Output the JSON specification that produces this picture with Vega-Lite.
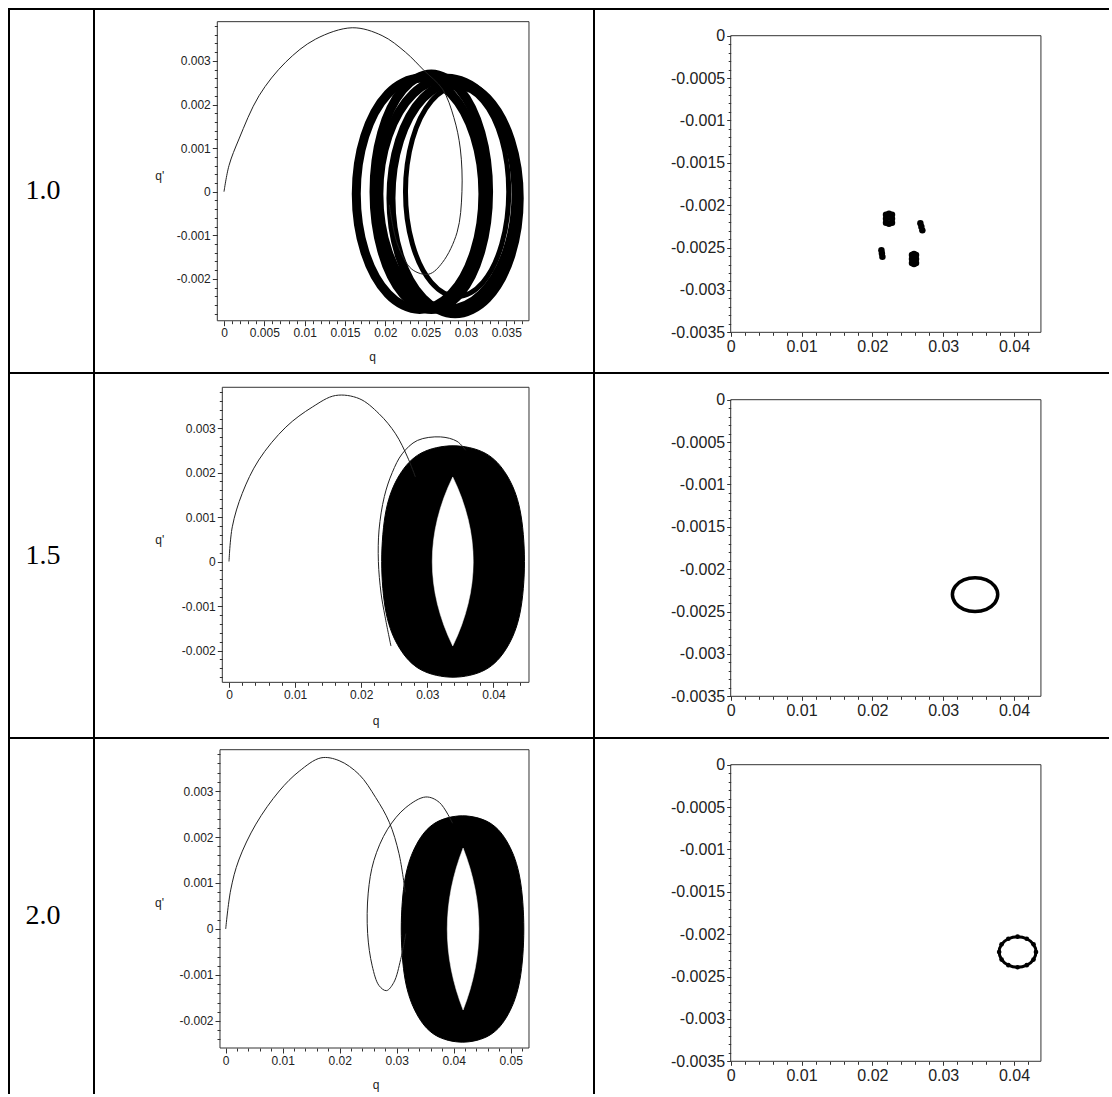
{
  "$schema": "https://vega.github.io/schema/vega-lite/v6.json",
  "padding": {"left": 8, "top": 8, "right": 0, "bottom": 0},
  "background": "white",
  "columns": 3,
  "spacing": 0,
  "bounds": "flush",
  "align": "each",
  "config": {
    "view": {"stroke": null},
    "axis": {"labelFont": "Liberation Sans", "titleFont": "Liberation Sans", "labelColor": "#222", "titleColor": "#222", "tickColor": "#333", "tickWidth": 1, "domain": false, "grid": false, "labelFlush": false, "labelOverlap": false, "titleFontWeight": "normal", "labelPadding": 2}
  },
  "concat": [
        {
          "width": 85, "height": 364,
          "view": {"stroke": "black", "strokeWidth": 2},
          "data": {"values": [{"label": "1.0", "pos": 1}]},
          "mark": {"type": "text", "font": "Liberation Serif", "fontSize": 28, "color": "black", "align": "center", "baseline": "middle"},
          "encoding": {
            "text": {"field": "label"},
            "x": {"field": "pos", "type": "quantitative", "scale": {"domain": [0, 2.5], "nice": false, "zero": false}, "axis": null},
            "y": {"field": "pos", "type": "quantitative", "scale": {"domain": [0, 2], "nice": false, "zero": false}, "axis": null}
          }
        },
        {
          "width": 500, "height": 364,
          "view": {"stroke": "black", "strokeWidth": 2},
          "layer": [
            {
              "data": {"values": [{"x0": -0.00083, "x1": 0.03781, "y0": -0.00296, "y1": 0.0039}]},
              "mark": {"type": "rect", "filled": false, "color": "#333", "strokeWidth": 1},
              "encoding": {
                "x": {"field": "x0", "type": "quantitative", "scale": {"domain": [-0.016117, 0.045872], "nice": false, "zero": false},
                  "axis": {"orient": "bottom", "offset": -52.3, "values": [0, 0.005, 0.01, 0.015, 0.02, 0.025, 0.03, 0.035], "format": ".4~g", "labelExpr": "replace(datum.label, '\u2212', '-')", "tickSize": 5, "labelFontSize": 12, "title": "q", "titleFontSize": 12, "titleX": 278, "titleY": 36, "titleAlign": "center", "titleBaseline": "middle", "titleAngle": 0}},
                "x2": {"field": "x1"},
                "y": {"field": "y0", "type": "quantitative", "scale": {"domain": [-0.0041583, 0.0041904], "nice": false, "zero": false},
                  "axis": {"orient": "left", "offset": -123.3, "values": [-0.002, -0.001, 0, 0.001, 0.002, 0.003], "format": ".4~g", "labelExpr": "replace(datum.label, '\u2212', '-')", "tickSize": 5, "labelFontSize": 12, "title": "q'", "titleFontSize": 12, "titleX": -58, "titleY": 166, "titleAlign": "center", "titleBaseline": "middle", "titleAngle": 0}},
                "y2": {"field": "y1"}
              }
            },
            {
              "data": {"values": [
                {"id": "R1", "i": 0, "q": 0.0321, "qp": -0.00005},
                {"id": "R1", "i": 1, "q": 0.031048, "qp": 0.001275},
                {"id": "R1", "i": 2, "q": 0.028175, "qp": 0.002245},
                {"id": "R1", "i": 3, "q": 0.02425, "qp": 0.0026},
                {"id": "R1", "i": 4, "q": 0.020325, "qp": 0.002245},
                {"id": "R1", "i": 5, "q": 0.017452, "qp": 0.001275},
                {"id": "R1", "i": 6, "q": 0.0164, "qp": -0.00005},
                {"id": "R1", "i": 7, "q": 0.017452, "qp": -0.001375},
                {"id": "R1", "i": 8, "q": 0.020325, "qp": -0.002345},
                {"id": "R1", "i": 9, "q": 0.02425, "qp": -0.0027},
                {"id": "R1", "i": 10, "q": 0.028175, "qp": -0.002345},
                {"id": "R1", "i": 11, "q": 0.031048, "qp": -0.001375},
                {"id": "R2", "i": 0, "q": 0.0328, "qp": 0},
                {"id": "R2", "i": 1, "q": 0.031849, "qp": 0.00135},
                {"id": "R2", "i": 2, "q": 0.02925, "qp": 0.002338},
                {"id": "R2", "i": 3, "q": 0.0257, "qp": 0.0027},
                {"id": "R2", "i": 4, "q": 0.02215, "qp": 0.002338},
                {"id": "R2", "i": 5, "q": 0.019551, "qp": 0.00135},
                {"id": "R2", "i": 6, "q": 0.0186, "qp": 0},
                {"id": "R2", "i": 7, "q": 0.019551, "qp": -0.00135},
                {"id": "R2", "i": 8, "q": 0.02215, "qp": -0.002338},
                {"id": "R2", "i": 9, "q": 0.0257, "qp": -0.0027},
                {"id": "R2", "i": 10, "q": 0.02925, "qp": -0.002338},
                {"id": "R2", "i": 11, "q": 0.031849, "qp": -0.00135},
                {"id": "R3", "i": 0, "q": 0.0366, "qp": -0.00015},
                {"id": "R3", "i": 1, "q": 0.035535, "qp": 0.001175},
                {"id": "R3", "i": 2, "q": 0.032625, "qp": 0.002145},
                {"id": "R3", "i": 3, "q": 0.02865, "qp": 0.0025},
                {"id": "R3", "i": 4, "q": 0.024675, "qp": 0.002145},
                {"id": "R3", "i": 5, "q": 0.021765, "qp": 0.001175},
                {"id": "R3", "i": 6, "q": 0.0207, "qp": -0.00015},
                {"id": "R3", "i": 7, "q": 0.021765, "qp": -0.001475},
                {"id": "R3", "i": 8, "q": 0.024675, "qp": -0.002445},
                {"id": "R3", "i": 9, "q": 0.02865, "qp": -0.0028},
                {"id": "R3", "i": 10, "q": 0.032625, "qp": -0.002445},
                {"id": "R3", "i": 11, "q": 0.035535, "qp": -0.001475},
                {"id": "R5", "i": 0, "q": 0.0362, "qp": -0.00005},
                {"id": "R5", "i": 1, "q": 0.035061, "qp": 0.001275},
                {"id": "R5", "i": 2, "q": 0.03195, "qp": 0.002245},
                {"id": "R5", "i": 3, "q": 0.0277, "qp": 0.0026},
                {"id": "R5", "i": 4, "q": 0.02345, "qp": 0.002245},
                {"id": "R5", "i": 5, "q": 0.020339, "qp": 0.001275},
                {"id": "R5", "i": 6, "q": 0.0192, "qp": -0.00005},
                {"id": "R5", "i": 7, "q": 0.020339, "qp": -0.001375},
                {"id": "R5", "i": 8, "q": 0.02345, "qp": -0.002345},
                {"id": "R5", "i": 9, "q": 0.0277, "qp": -0.0027},
                {"id": "R5", "i": 10, "q": 0.03195, "qp": -0.002345},
                {"id": "R5", "i": 11, "q": 0.035061, "qp": -0.001375}
              ]},
              "mark": {"type": "line", "interpolate": "cardinal-closed", "color": "black", "strokeWidth": 9},
              "encoding": {
                "x": {"field": "q", "type": "quantitative", "scale": {"domain": [-0.016117, 0.045872], "nice": false, "zero": false},
                  "axis": {"orient": "bottom", "offset": -52.3, "values": [0.001, 0.002, 0.003, 0.004, 0.006, 0.007, 0.008, 0.009, 0.011, 0.012, 0.013, 0.014, 0.016, 0.017, 0.018, 0.019, 0.021, 0.022, 0.023, 0.024, 0.026, 0.027, 0.028, 0.029, 0.031, 0.032, 0.033, 0.034, 0.036, 0.037], "labels": false, "tickSize": 3, "title": null}},
                "y": {"field": "qp", "type": "quantitative", "scale": {"domain": [-0.0041583, 0.0041904], "nice": false, "zero": false},
                  "axis": {"orient": "left", "offset": -123.3, "values": [-0.0028, -0.0026, -0.0024, -0.0022, -0.0018, -0.0016, -0.0014, -0.0012, -0.0008, -0.0006, -0.0004, -0.0002, 0.0002, 0.0004, 0.0006, 0.0008, 0.0012, 0.0014, 0.0016, 0.0018, 0.0022, 0.0024, 0.0026, 0.0028, 0.0032, 0.0034, 0.0036, 0.0038], "labels": false, "tickSize": 3, "title": null}},
                "detail": {"field": "id"},
                "order": {"field": "i"}
              }
            },
            {
              "data": {"values": [
                {"i": 0, "q": 0.0353, "qp": 0},
                {"i": 1, "q": 0.034442, "qp": 0.0012},
                {"i": 2, "q": 0.0321, "qp": 0.002078},
                {"i": 3, "q": 0.0289, "qp": 0.0024},
                {"i": 4, "q": 0.0257, "qp": 0.002078},
                {"i": 5, "q": 0.023358, "qp": 0.0012},
                {"i": 6, "q": 0.0225, "qp": 0},
                {"i": 7, "q": 0.023358, "qp": -0.0012},
                {"i": 8, "q": 0.0257, "qp": -0.002078},
                {"i": 9, "q": 0.0289, "qp": -0.0024},
                {"i": 10, "q": 0.0321, "qp": -0.002078},
                {"i": 11, "q": 0.034442, "qp": -0.0012}
              ]},
              "mark": {"type": "line", "interpolate": "cardinal-closed", "color": "black", "strokeWidth": 5},
              "encoding": {
                "x": {"field": "q", "type": "quantitative", "scale": {"domain": [-0.016117, 0.045872], "nice": false, "zero": false}, "axis": null},
                "y": {"field": "qp", "type": "quantitative", "scale": {"domain": [-0.0041583, 0.0041904], "nice": false, "zero": false}, "axis": null},
                "order": {"field": "i"}
              }
            },
            {
              "data": {"values": [
                {"i": 0, "q": 0, "qp": 0},
                {"i": 2, "q": 0.00062, "qp": 0.0006},
                {"i": 3, "q": 0.00186, "qp": 0.00121},
                {"i": 4, "q": 0.00434, "qp": 0.0022},
                {"i": 5, "q": 0.00764, "qp": 0.00297},
                {"i": 6, "q": 0.01136, "qp": 0.0035},
                {"i": 7, "q": 0.0159, "qp": 0.00376},
                {"i": 8, "q": 0.0196, "qp": 0.00358},
                {"i": 9, "q": 0.0225, "qp": 0.0032},
                {"i": 10, "q": 0.0248, "qp": 0.00278},
                {"i": 11, "q": 0.0271, "qp": 0.00235},
                {"i": 12, "q": 0.0285, "qp": 0.0017},
                {"i": 13, "q": 0.0293, "qp": 0.00098},
                {"i": 14, "q": 0.0295, "qp": 0},
                {"i": 15, "q": 0.0289, "qp": -0.00093},
                {"i": 16, "q": 0.0271, "qp": -0.00162},
                {"i": 17, "q": 0.0254, "qp": -0.00189},
                {"i": 18, "q": 0.0233, "qp": -0.00178},
                {"i": 19, "q": 0.0215, "qp": -0.0012},
                {"i": 20, "q": 0.0205, "qp": -0.0003}
              ]},
              "mark": {"type": "line", "interpolate": "catmull-rom", "color": "#222", "strokeWidth": 1},
              "encoding": {
                "x": {"field": "q", "type": "quantitative", "scale": {"domain": [-0.016117, 0.045872], "nice": false, "zero": false}, "axis": null},
                "y": {"field": "qp", "type": "quantitative", "scale": {"domain": [-0.0041583, 0.0041904], "nice": false, "zero": false}, "axis": null},
                "order": {"field": "i"}
              }
            }
          ],
          "resolve": {"axis": {"x": "independent", "y": "independent"}}
        },
        {
          "width": 515, "height": 364,
          "view": {"stroke": "black", "strokeWidth": 2, "strokeDash": [515, 364, 879, 0]},
          "layer": [
            {
              "data": {"values": [{"x0": 0, "x1": 0.0438, "y0": -0.0035, "y1": 0}]},
              "mark": {"type": "rect", "filled": false, "color": "#333", "strokeWidth": 1},
              "encoding": {
                "x": {"field": "x0", "type": "quantitative", "scale": {"domain": [-0.0193, 0.05341], "nice": false, "zero": false},
                  "axis": {"orient": "bottom", "offset": -40.7, "values": [0, 0.01, 0.02, 0.03, 0.04], "format": ".4~g", "labelExpr": "replace(datum.label, '\u2212', '-')", "tickSize": 4, "labelFontSize": 16, "title": null}},
                "x2": {"field": "x1"},
                "y": {"field": "y0", "type": "quantitative", "scale": {"domain": [-0.00398, 0.000315], "nice": false, "zero": false},
                  "axis": {"orient": "left", "offset": -136.7, "values": [0, -0.0005, -0.001, -0.0015, -0.002, -0.0025, -0.003, -0.0035], "format": ".4~g", "labelExpr": "replace(datum.label, '\u2212', '-')", "tickSize": 4, "labelFontSize": 16, "title": null}},
                "y2": {"field": "y1"}
              }
            },
            {
              "data": {"values": [
                {"q": 0.021926, "qp": -0.002113}, {"q": 0.022774, "qp": -0.002113},
                {"q": 0.021926, "qp": -0.00216}, {"q": 0.022774, "qp": -0.00216},
                {"q": 0.021926, "qp": -0.002207}, {"q": 0.022774, "qp": -0.002207},
                {"q": 0.02235, "qp": -0.002101}, {"q": 0.02235, "qp": -0.002219},
                {"q": 0.025598, "qp": -0.002588}, {"q": 0.026162, "qp": -0.002588},
                {"q": 0.025598, "qp": -0.002635}, {"q": 0.026162, "qp": -0.002635},
                {"q": 0.025598, "qp": -0.002682}, {"q": 0.026162, "qp": -0.002682},
                {"q": 0.02588, "qp": -0.002576}, {"q": 0.02588, "qp": -0.002694},
                {"q": 0.02678, "qp": -0.002213}, {"q": 0.02692, "qp": -0.002255}, {"q": 0.02706, "qp": -0.002297},
                {"q": 0.02128, "qp": -0.002532}, {"q": 0.02135, "qp": -0.00257}, {"q": 0.02142, "qp": -0.002608}
              ]},
              "mark": {"type": "circle", "color": "black", "opacity": 1, "size": 42},
              "encoding": {
                "x": {"field": "q", "type": "quantitative", "scale": {"domain": [-0.0193, 0.05341], "nice": false, "zero": false},
                  "axis": {"orient": "bottom", "offset": -40.7, "values": [0.002, 0.004, 0.006, 0.008, 0.012, 0.014, 0.016, 0.018, 0.022, 0.024, 0.026, 0.028, 0.032, 0.034, 0.036, 0.038, 0.042], "labels": false, "tickSize": 3, "title": null}},
                "y": {"field": "qp", "type": "quantitative", "scale": {"domain": [-0.00398, 0.000315], "nice": false, "zero": false},
                  "axis": {"orient": "left", "offset": -136.7, "values": [-0.0034, -0.0033, -0.0032, -0.0031, -0.0029, -0.0028, -0.0027, -0.0026, -0.0024, -0.0023, -0.0022, -0.0021, -0.0019, -0.0018, -0.0017, -0.0016, -0.0014, -0.0013, -0.0012, -0.0011, -0.0009, -0.0008, -0.0007, -0.0006, -0.0004, -0.0003, -0.0002, -0.0001], "labels": false, "tickSize": 2.5, "title": null}}
              }
            }
          ],
          "resolve": {"axis": {"x": "independent", "y": "independent"}}
        },
        {
          "width": 85, "height": 365,
          "view": {"stroke": "black", "strokeWidth": 2},
          "data": {"values": [{"label": "1.5", "pos": 1}]},
          "mark": {"type": "text", "font": "Liberation Serif", "fontSize": 28, "color": "black", "align": "center", "baseline": "middle"},
          "encoding": {
            "text": {"field": "label"},
            "x": {"field": "pos", "type": "quantitative", "scale": {"domain": [0, 2.5], "nice": false, "zero": false}, "axis": null},
            "y": {"field": "pos", "type": "quantitative", "scale": {"domain": [0, 2], "nice": false, "zero": false}, "axis": null}
          }
        },
        {
          "width": 500, "height": 365,
          "view": {"stroke": "black", "strokeWidth": 2},
          "layer": [
            {
              "data": {"values": [{"x0": -0.001014, "x1": 0.045386, "y0": -0.002715, "y1": 0.003915}]},
              "mark": {"type": "rect", "filled": false, "color": "#333", "strokeWidth": 1},
              "encoding": {
                "x": {"field": "x0", "type": "quantitative", "scale": {"domain": [-0.020424, 0.05522], "nice": false, "zero": false},
                  "axis": {"orient": "bottom", "offset": -55.7, "values": [0, 0.01, 0.02, 0.03, 0.04], "format": ".4~g", "labelExpr": "replace(datum.label, '\u2212', '-')", "tickSize": 5, "labelFontSize": 12, "title": "q", "titleFontSize": 12, "titleX": 281.7, "titleY": 38, "titleAlign": "center", "titleBaseline": "middle", "titleAngle": 0}},
                "x2": {"field": "x1"},
                "y": {"field": "y0", "type": "quantitative", "scale": {"domain": [-0.003966, 0.004236], "nice": false, "zero": false},
                  "axis": {"orient": "left", "offset": -128.3, "values": [-0.002, -0.001, 0, 0.001, 0.002, 0.003], "format": ".4~g", "labelExpr": "replace(datum.label, '\u2212', '-')", "tickSize": 5, "labelFontSize": 12, "title": "q'", "titleFontSize": 12, "titleX": -63, "titleY": 166, "titleAlign": "center", "titleBaseline": "middle", "titleAngle": 0}},
                "y2": {"field": "y1"}
              }
            },
            {
              "data": {"values": [
                {"i": 0, "q": 0.0447, "qp": 0},
                {"i": 1, "q": 0.044011, "qp": 0.001168},
                {"i": 2, "q": 0.041991, "qp": 0.001948},
                {"i": 3, "q": 0.03875, "qp": 0.002434},
                {"i": 4, "q": 0.0339, "qp": 0.0026},
                {"i": 5, "q": 0.02905, "qp": 0.002434},
                {"i": 6, "q": 0.025809, "qp": 0.001948},
                {"i": 7, "q": 0.023789, "qp": 0.001168},
                {"i": 8, "q": 0.0231, "qp": 0},
                {"i": 9, "q": 0.023789, "qp": -0.001168},
                {"i": 10, "q": 0.025809, "qp": -0.001948},
                {"i": 11, "q": 0.02905, "qp": -0.002434},
                {"i": 12, "q": 0.0339, "qp": -0.0026},
                {"i": 13, "q": 0.03875, "qp": -0.002434},
                {"i": 14, "q": 0.041991, "qp": -0.001948},
                {"i": 15, "q": 0.044011, "qp": -0.001168}
              ]},
              "mark": {"type": "line", "interpolate": "cardinal-closed", "filled": true, "fill": "black", "stroke": "black", "strokeWidth": 1},
              "encoding": {
                "x": {"field": "q", "type": "quantitative", "scale": {"domain": [-0.020424, 0.05522], "nice": false, "zero": false},
                  "axis": {"orient": "bottom", "offset": -55.7, "values": [0.002, 0.004, 0.006, 0.008, 0.012, 0.014, 0.016, 0.018, 0.022, 0.024, 0.026, 0.028, 0.032, 0.034, 0.036, 0.038, 0.042, 0.044], "labels": false, "tickSize": 3, "title": null}},
                "y": {"field": "qp", "type": "quantitative", "scale": {"domain": [-0.003966, 0.004236], "nice": false, "zero": false},
                  "axis": {"orient": "left", "offset": -128.3, "values": [-0.0026, -0.0024, -0.0022, -0.0018, -0.0016, -0.0014, -0.0012, -0.0008, -0.0006, -0.0004, -0.0002, 0.0002, 0.0004, 0.0006, 0.0008, 0.0012, 0.0014, 0.0016, 0.0018, 0.0022, 0.0024, 0.0026, 0.0028, 0.0032, 0.0034, 0.0036, 0.0038], "labels": false, "tickSize": 3, "title": null}},
                "order": {"field": "i"}
              }
            },
            {
              "data": {"values": [
                {"i": 0, "q": 0.03385, "qp": 0.0019},
                {"i": 1, "q": 0.034577, "qp": 0.0016625},
                {"i": 2, "q": 0.035206, "qp": 0.001425},
                {"i": 3, "q": 0.035739, "qp": 0.0011875},
                {"i": 4, "q": 0.036175, "qp": 0.00095},
                {"i": 5, "q": 0.036514, "qp": 0.0007125},
                {"i": 6, "q": 0.036756, "qp": 0.000475},
                {"i": 7, "q": 0.036902, "qp": 0.0002375},
                {"i": 8, "q": 0.03695, "qp": 0},
                {"i": 9, "q": 0.036902, "qp": -0.0002375},
                {"i": 10, "q": 0.036756, "qp": -0.000475},
                {"i": 11, "q": 0.036514, "qp": -0.0007125},
                {"i": 12, "q": 0.036175, "qp": -0.00095},
                {"i": 13, "q": 0.035739, "qp": -0.0011875},
                {"i": 14, "q": 0.035206, "qp": -0.001425},
                {"i": 15, "q": 0.034577, "qp": -0.0016625},
                {"i": 16, "q": 0.03385, "qp": -0.0019},
                {"i": 17, "q": 0.033123, "qp": -0.0016625},
                {"i": 18, "q": 0.032494, "qp": -0.001425},
                {"i": 19, "q": 0.031961, "qp": -0.0011875},
                {"i": 20, "q": 0.031525, "qp": -0.00095},
                {"i": 21, "q": 0.031186, "qp": -0.0007125},
                {"i": 22, "q": 0.030944, "qp": -0.000475},
                {"i": 23, "q": 0.030798, "qp": -0.0002375},
                {"i": 24, "q": 0.03075, "qp": 0},
                {"i": 25, "q": 0.030798, "qp": 0.0002375},
                {"i": 26, "q": 0.030944, "qp": 0.000475},
                {"i": 27, "q": 0.031186, "qp": 0.0007125},
                {"i": 28, "q": 0.031525, "qp": 0.00095},
                {"i": 29, "q": 0.031961, "qp": 0.0011875},
                {"i": 30, "q": 0.032494, "qp": 0.001425},
                {"i": 31, "q": 0.033123, "qp": 0.0016625}
              ]},
              "mark": {"type": "line", "interpolate": "linear-closed", "filled": true, "fill": "white", "stroke": "white", "strokeWidth": 0.5},
              "encoding": {
                "x": {"field": "q", "type": "quantitative", "scale": {"domain": [-0.020424, 0.05522], "nice": false, "zero": false}, "axis": null},
                "y": {"field": "qp", "type": "quantitative", "scale": {"domain": [-0.003966, 0.004236], "nice": false, "zero": false}, "axis": null},
                "order": {"field": "i"}
              }
            },
            {
              "data": {"values": [
                {"id": "a", "i": 0, "q": 0, "qp": 0},
                {"id": "a", "i": 2, "q": 0.0005, "qp": 0.00078},
                {"id": "a", "i": 3, "q": 0.002, "qp": 0.00153},
                {"id": "a", "i": 4, "q": 0.0045, "qp": 0.00228},
                {"id": "a", "i": 5, "q": 0.0086, "qp": 0.00302},
                {"id": "a", "i": 6, "q": 0.0126, "qp": 0.00347},
                {"id": "a", "i": 7, "q": 0.0161, "qp": 0.00373},
                {"id": "a", "i": 8, "q": 0.0197, "qp": 0.00366},
                {"id": "a", "i": 9, "q": 0.0227, "qp": 0.00332},
                {"id": "a", "i": 10, "q": 0.0252, "qp": 0.00287},
                {"id": "a", "i": 11, "q": 0.027, "qp": 0.00235},
                {"id": "a", "i": 12, "q": 0.0282, "qp": 0.0019},
                {"id": "b", "i": 0, "q": 0.0245, "qp": -0.0019},
                {"id": "b", "i": 1, "q": 0.0236, "qp": -0.00123},
                {"id": "b", "i": 2, "q": 0.023, "qp": -0.00071},
                {"id": "b", "i": 3, "q": 0.0226, "qp": 0},
                {"id": "b", "i": 4, "q": 0.0227, "qp": 0.00071},
                {"id": "b", "i": 5, "q": 0.0235, "qp": 0.00146},
                {"id": "b", "i": 6, "q": 0.0247, "qp": 0.002},
                {"id": "b", "i": 7, "q": 0.0262, "qp": 0.00242},
                {"id": "b", "i": 8, "q": 0.0285, "qp": 0.00272},
                {"id": "b", "i": 9, "q": 0.032, "qp": 0.0028},
                {"id": "b", "i": 10, "q": 0.0345, "qp": 0.0027},
                {"id": "b", "i": 11, "q": 0.0358, "qp": 0.0025}
              ]},
              "mark": {"type": "line", "interpolate": "catmull-rom", "color": "#222", "strokeWidth": 1},
              "encoding": {
                "x": {"field": "q", "type": "quantitative", "scale": {"domain": [-0.020424, 0.05522], "nice": false, "zero": false}, "axis": null},
                "y": {"field": "qp", "type": "quantitative", "scale": {"domain": [-0.003966, 0.004236], "nice": false, "zero": false}, "axis": null},
                "detail": {"field": "id"},
                "order": {"field": "i"}
              }
            }
          ],
          "resolve": {"axis": {"x": "independent", "y": "independent"}}
        },
        {
          "width": 515, "height": 365,
          "view": {"stroke": "black", "strokeWidth": 2, "strokeDash": [515, 365, 880, 0]},
          "layer": [
            {
              "data": {"values": [{"x0": 0, "x1": 0.0438, "y0": -0.0035, "y1": 0}]},
              "mark": {"type": "rect", "filled": false, "color": "#333", "strokeWidth": 1},
              "encoding": {
                "x": {"field": "x0", "type": "quantitative", "scale": {"domain": [-0.0193, 0.05341], "nice": false, "zero": false},
                  "axis": {"orient": "bottom", "offset": -41.7, "values": [0, 0.01, 0.02, 0.03, 0.04], "format": ".4~g", "labelExpr": "replace(datum.label, '\u2212', '-')", "tickSize": 4, "labelFontSize": 16, "title": null}},
                "x2": {"field": "x1"},
                "y": {"field": "y0", "type": "quantitative", "scale": {"domain": [-0.003992, 0.000315], "nice": false, "zero": false},
                  "axis": {"orient": "left", "offset": -136.7, "values": [0, -0.0005, -0.001, -0.0015, -0.002, -0.0025, -0.003, -0.0035], "format": ".4~g", "labelExpr": "replace(datum.label, '\u2212', '-')", "tickSize": 4, "labelFontSize": 16, "title": null}},
                "y2": {"field": "y1"}
              }
            },
            {
              "data": {"values": [
                {"id": "a", "i": 0, "q": 0.0377, "qp": -0.0023},
                {"id": "a", "i": 1, "q": 0.037271, "qp": -0.0022},
                {"id": "a", "i": 2, "q": 0.0361, "qp": -0.002127},
                {"id": "a", "i": 3, "q": 0.0345, "qp": -0.0021},
                {"id": "a", "i": 4, "q": 0.0329, "qp": -0.002127},
                {"id": "a", "i": 5, "q": 0.031729, "qp": -0.0022},
                {"id": "a", "i": 6, "q": 0.0313, "qp": -0.0023},
                {"id": "a", "i": 7, "q": 0.031729, "qp": -0.0024},
                {"id": "a", "i": 8, "q": 0.0329, "qp": -0.002473},
                {"id": "a", "i": 9, "q": 0.0345, "qp": -0.0025},
                {"id": "a", "i": 10, "q": 0.0361, "qp": -0.002473},
                {"id": "a", "i": 11, "q": 0.037271, "qp": -0.0024}
              ]},
              "mark": {"type": "line", "interpolate": "cardinal-closed", "color": "black", "strokeWidth": 3.5},
              "encoding": {
                "x": {"field": "q", "type": "quantitative", "scale": {"domain": [-0.0193, 0.05341], "nice": false, "zero": false},
                  "axis": {"orient": "bottom", "offset": -41.7, "values": [0.002, 0.004, 0.006, 0.008, 0.012, 0.014, 0.016, 0.018, 0.022, 0.024, 0.026, 0.028, 0.032, 0.034, 0.036, 0.038, 0.042], "labels": false, "tickSize": 3, "title": null}},
                "y": {"field": "qp", "type": "quantitative", "scale": {"domain": [-0.003992, 0.000315], "nice": false, "zero": false},
                  "axis": {"orient": "left", "offset": -136.7, "values": [-0.0034, -0.0033, -0.0032, -0.0031, -0.0029, -0.0028, -0.0027, -0.0026, -0.0024, -0.0023, -0.0022, -0.0021, -0.0019, -0.0018, -0.0017, -0.0016, -0.0014, -0.0013, -0.0012, -0.0011, -0.0009, -0.0008, -0.0007, -0.0006, -0.0004, -0.0003, -0.0002, -0.0001], "labels": false, "tickSize": 2.5, "title": null}},
                "detail": {"field": "id"},
                "order": {"field": "i"}
              }
            }
          ],
          "resolve": {"axis": {"x": "independent", "y": "independent"}}
        },
        {
          "width": 85, "height": 356,
          "view": {"stroke": "black", "strokeWidth": 2, "strokeDash": [441, 85, 356, 0]},
          "data": {"values": [{"label": "2.0", "pos": 1}]},
          "mark": {"type": "text", "font": "Liberation Serif", "fontSize": 28, "color": "black", "align": "center", "baseline": "middle"},
          "encoding": {
            "text": {"field": "label"},
            "x": {"field": "pos", "type": "quantitative", "scale": {"domain": [0, 2.5], "nice": false, "zero": false}, "axis": null},
            "y": {"field": "pos", "type": "quantitative", "scale": {"domain": [0, 2], "nice": false, "zero": false}, "axis": null}
          }
        },
        {
          "width": 500, "height": 356,
          "view": {"stroke": "black", "strokeWidth": 2, "strokeDash": [856, 500, 356, 0]},
          "layer": [
            {
              "data": {"values": [{"x0": -0.001, "x1": 0.05321, "y0": -0.002587, "y1": 0.003898}]},
              "mark": {"type": "rect", "filled": false, "color": "#333", "strokeWidth": 1},
              "encoding": {
                "x": {"field": "x0", "type": "quantitative", "scale": {"domain": [-0.023105, 0.064614], "nice": false, "zero": false},
                  "axis": {"orient": "bottom", "offset": -46, "values": [0, 0.01, 0.02, 0.03, 0.04, 0.05], "format": ".4~g", "labelExpr": "replace(datum.label, '\u2212', '-')", "tickSize": 5, "labelFontSize": 12, "title": "q", "titleFontSize": 12, "titleX": 281.7, "titleY": 36, "titleAlign": "center", "titleBaseline": "middle", "titleAngle": 0}},
                "x2": {"field": "x1"},
                "y": {"field": "y0", "type": "quantitative", "scale": {"domain": [-0.003587, 0.0041522], "nice": false, "zero": false},
                  "axis": {"orient": "left", "offset": -126, "values": [-0.002, -0.001, 0, 0.001, 0.002, 0.003], "format": ".4~g", "labelExpr": "replace(datum.label, '\u2212', '-')", "tickSize": 5, "labelFontSize": 12, "title": "q'", "titleFontSize": 12, "titleX": -61, "titleY": 164, "titleAlign": "center", "titleBaseline": "middle", "titleAngle": 0}},
                "y2": {"field": "y1"}
              }
            },
            {
              "data": {"values": [
                {"i": 0, "q": 0.0523, "qp": 0},
                {"i": 1, "q": 0.051614, "qp": 0.001105},
                {"i": 2, "q": 0.049604, "qp": 0.001843},
                {"i": 3, "q": 0.046378, "qp": 0.002303},
                {"i": 4, "q": 0.04155, "qp": 0.00246},
                {"i": 5, "q": 0.036722, "qp": 0.002303},
                {"i": 6, "q": 0.033496, "qp": 0.001843},
                {"i": 7, "q": 0.031486, "qp": 0.001105},
                {"i": 8, "q": 0.0308, "qp": 0},
                {"i": 9, "q": 0.031486, "qp": -0.001105},
                {"i": 10, "q": 0.033496, "qp": -0.001843},
                {"i": 11, "q": 0.036722, "qp": -0.002303},
                {"i": 12, "q": 0.04155, "qp": -0.00246},
                {"i": 13, "q": 0.046378, "qp": -0.002303},
                {"i": 14, "q": 0.049604, "qp": -0.001843},
                {"i": 15, "q": 0.051614, "qp": -0.001105}
              ]},
              "mark": {"type": "line", "interpolate": "cardinal-closed", "filled": true, "fill": "black", "stroke": "black", "strokeWidth": 1},
              "encoding": {
                "x": {"field": "q", "type": "quantitative", "scale": {"domain": [-0.023105, 0.064614], "nice": false, "zero": false},
                  "axis": {"orient": "bottom", "offset": -46, "values": [0.002, 0.004, 0.006, 0.008, 0.012, 0.014, 0.016, 0.018, 0.022, 0.024, 0.026, 0.028, 0.032, 0.034, 0.036, 0.038, 0.042, 0.044, 0.046, 0.048, 0.052], "labels": false, "tickSize": 3, "title": null}},
                "y": {"field": "qp", "type": "quantitative", "scale": {"domain": [-0.003587, 0.0041522], "nice": false, "zero": false},
                  "axis": {"orient": "left", "offset": -126, "values": [-0.0024, -0.0022, -0.0018, -0.0016, -0.0014, -0.0012, -0.0008, -0.0006, -0.0004, -0.0002, 0.0002, 0.0004, 0.0006, 0.0008, 0.0012, 0.0014, 0.0016, 0.0018, 0.0022, 0.0024, 0.0026, 0.0028, 0.0032, 0.0034, 0.0036, 0.0038], "labels": false, "tickSize": 3, "title": null}},
                "order": {"field": "i"}
              }
            },
            {
              "data": {"values": [
                {"i": 0, "q": 0.04165, "qp": 0.00176},
                {"i": 1, "q": 0.042302, "qp": 0.00154},
                {"i": 2, "q": 0.042866, "qp": 0.00132},
                {"i": 3, "q": 0.043344, "qp": 0.0011},
                {"i": 4, "q": 0.043735, "qp": 0.00088},
                {"i": 5, "q": 0.044039, "qp": 0.00066},
                {"i": 6, "q": 0.044256, "qp": 0.00044},
                {"i": 7, "q": 0.044387, "qp": 0.00022},
                {"i": 8, "q": 0.04443, "qp": 0},
                {"i": 9, "q": 0.044387, "qp": -0.00022},
                {"i": 10, "q": 0.044256, "qp": -0.00044},
                {"i": 11, "q": 0.044039, "qp": -0.00066},
                {"i": 12, "q": 0.043735, "qp": -0.00088},
                {"i": 13, "q": 0.043344, "qp": -0.0011},
                {"i": 14, "q": 0.042866, "qp": -0.00132},
                {"i": 15, "q": 0.042302, "qp": -0.00154},
                {"i": 16, "q": 0.04165, "qp": -0.00176},
                {"i": 17, "q": 0.040998, "qp": -0.00154},
                {"i": 18, "q": 0.040434, "qp": -0.00132},
                {"i": 19, "q": 0.039956, "qp": -0.0011},
                {"i": 20, "q": 0.039565, "qp": -0.00088},
                {"i": 21, "q": 0.039261, "qp": -0.00066},
                {"i": 22, "q": 0.039044, "qp": -0.00044},
                {"i": 23, "q": 0.038913, "qp": -0.00022},
                {"i": 24, "q": 0.03887, "qp": 0},
                {"i": 25, "q": 0.038913, "qp": 0.00022},
                {"i": 26, "q": 0.039044, "qp": 0.00044},
                {"i": 27, "q": 0.039261, "qp": 0.00066},
                {"i": 28, "q": 0.039565, "qp": 0.00088},
                {"i": 29, "q": 0.039956, "qp": 0.0011},
                {"i": 30, "q": 0.040434, "qp": 0.00132},
                {"i": 31, "q": 0.040998, "qp": 0.00154}
              ]},
              "mark": {"type": "line", "interpolate": "linear-closed", "filled": true, "fill": "white", "stroke": "white", "strokeWidth": 0.5},
              "encoding": {
                "x": {"field": "q", "type": "quantitative", "scale": {"domain": [-0.023105, 0.064614], "nice": false, "zero": false}, "axis": null},
                "y": {"field": "qp", "type": "quantitative", "scale": {"domain": [-0.003587, 0.0041522], "nice": false, "zero": false}, "axis": null},
                "order": {"field": "i"}
              }
            },
            {
              "data": {"values": [
                {"id": "a", "i": 0, "q": 0, "qp": 0},
                {"id": "a", "i": 2, "q": 0.00088, "qp": 0.00085},
                {"id": "a", "i": 3, "q": 0.0023, "qp": 0.0015},
                {"id": "a", "i": 4, "q": 0.0053, "qp": 0.00228},
                {"id": "a", "i": 5, "q": 0.0094, "qp": 0.003},
                {"id": "a", "i": 6, "q": 0.0129, "qp": 0.00343},
                {"id": "a", "i": 7, "q": 0.0167, "qp": 0.00372},
                {"id": "a", "i": 8, "q": 0.0199, "qp": 0.00366},
                {"id": "a", "i": 9, "q": 0.0234, "qp": 0.00336},
                {"id": "a", "i": 10, "q": 0.0263, "qp": 0.00286},
                {"id": "a", "i": 11, "q": 0.0287, "qp": 0.00232},
                {"id": "a", "i": 12, "q": 0.0304, "qp": 0.00164},
                {"id": "a", "i": 13, "q": 0.0315, "qp": 0.0008},
                {"id": "b", "i": 0, "q": 0.0398, "qp": 0.0023},
                {"id": "b", "i": 1, "q": 0.0375, "qp": 0.00275},
                {"id": "b", "i": 2, "q": 0.0351, "qp": 0.00287},
                {"id": "b", "i": 3, "q": 0.0316, "qp": 0.00264},
                {"id": "b", "i": 4, "q": 0.0284, "qp": 0.00217},
                {"id": "b", "i": 5, "q": 0.026, "qp": 0.00149},
                {"id": "b", "i": 6, "q": 0.025, "qp": 0.00078},
                {"id": "b", "i": 7, "q": 0.0249, "qp": -0.0001},
                {"id": "b", "i": 8, "q": 0.0257, "qp": -0.0008},
                {"id": "b", "i": 9, "q": 0.0269, "qp": -0.00123},
                {"id": "b", "i": 10, "q": 0.0282, "qp": -0.00134},
                {"id": "b", "i": 11, "q": 0.0295, "qp": -0.00116},
                {"id": "b", "i": 12, "q": 0.0307, "qp": -0.00066},
                {"id": "b", "i": 13, "q": 0.0316, "qp": -0.0001}
              ]},
              "mark": {"type": "line", "interpolate": "catmull-rom", "color": "#222", "strokeWidth": 1},
              "encoding": {
                "x": {"field": "q", "type": "quantitative", "scale": {"domain": [-0.023105, 0.064614], "nice": false, "zero": false}, "axis": null},
                "y": {"field": "qp", "type": "quantitative", "scale": {"domain": [-0.003587, 0.0041522], "nice": false, "zero": false}, "axis": null},
                "detail": {"field": "id"},
                "order": {"field": "i"}
              }
            }
          ],
          "resolve": {"axis": {"x": "independent", "y": "independent"}}
        },
        {
          "width": 515, "height": 356,
          "view": {"stroke": "black", "strokeWidth": 2, "strokeDash": [515, 871, 356, 0]},
          "layer": [
            {
              "data": {"values": [{"x0": 0, "x1": 0.0438, "y0": -0.0035, "y1": 0}]},
              "mark": {"type": "rect", "filled": false, "color": "#333", "strokeWidth": 1},
              "encoding": {
                "x": {"field": "x0", "type": "quantitative", "scale": {"domain": [-0.0193, 0.05341], "nice": false, "zero": false},
                  "axis": {"orient": "bottom", "offset": -32.7, "values": [0, 0.01, 0.02, 0.03, 0.04], "format": ".4~g", "labelExpr": "replace(datum.label, '\u2212', '-')", "tickSize": 4, "labelFontSize": 16, "title": null}},
                "x2": {"field": "x1"},
                "y": {"field": "y0", "type": "quantitative", "scale": {"domain": [-0.003886, 0.000315], "nice": false, "zero": false},
                  "axis": {"orient": "left", "offset": -136.7, "values": [0, -0.0005, -0.001, -0.0015, -0.002, -0.0025, -0.003, -0.0035], "format": ".4~g", "labelExpr": "replace(datum.label, '\u2212', '-')", "tickSize": 4, "labelFontSize": 16, "title": null}},
                "y2": {"field": "y1"}
              }
            },
            {
              "data": {"values": [
                {"id": "a", "i": 0, "q": 0.0431, "qp": -0.00221},
                {"id": "a", "i": 1, "q": 0.042752, "qp": -0.00212},
                {"id": "a", "i": 2, "q": 0.0418, "qp": -0.002054},
                {"id": "a", "i": 3, "q": 0.0405, "qp": -0.00203},
                {"id": "a", "i": 4, "q": 0.0392, "qp": -0.002054},
                {"id": "a", "i": 5, "q": 0.038248, "qp": -0.00212},
                {"id": "a", "i": 6, "q": 0.0379, "qp": -0.00221},
                {"id": "a", "i": 7, "q": 0.038248, "qp": -0.0023},
                {"id": "a", "i": 8, "q": 0.0392, "qp": -0.002366},
                {"id": "a", "i": 9, "q": 0.0405, "qp": -0.00239},
                {"id": "a", "i": 10, "q": 0.0418, "qp": -0.002366},
                {"id": "a", "i": 11, "q": 0.042752, "qp": -0.0023}
              ]},
              "mark": {"type": "line", "interpolate": "cardinal-closed", "color": "black", "strokeWidth": 3},
              "encoding": {
                "x": {"field": "q", "type": "quantitative", "scale": {"domain": [-0.0193, 0.05341], "nice": false, "zero": false},
                  "axis": {"orient": "bottom", "offset": -32.7, "values": [0.002, 0.004, 0.006, 0.008, 0.012, 0.014, 0.016, 0.018, 0.022, 0.024, 0.026, 0.028, 0.032, 0.034, 0.036, 0.038, 0.042], "labels": false, "tickSize": 3, "title": null}},
                "y": {"field": "qp", "type": "quantitative", "scale": {"domain": [-0.003886, 0.000315], "nice": false, "zero": false},
                  "axis": {"orient": "left", "offset": -136.7, "values": [-0.0034, -0.0033, -0.0032, -0.0031, -0.0029, -0.0028, -0.0027, -0.0026, -0.0024, -0.0023, -0.0022, -0.0021, -0.0019, -0.0018, -0.0017, -0.0016, -0.0014, -0.0013, -0.0012, -0.0011, -0.0009, -0.0008, -0.0007, -0.0006, -0.0004, -0.0003, -0.0002, -0.0001], "labels": false, "tickSize": 2.5, "title": null}},
                "detail": {"field": "id"},
                "order": {"field": "i"}
              }
            },
            {
              "data": {"values": [
                {"q": 0.0431, "qp": -0.00221},
                {"q": 0.042752, "qp": -0.00212},
                {"q": 0.0418, "qp": -0.002054},
                {"q": 0.0405, "qp": -0.00203},
                {"q": 0.0392, "qp": -0.002054},
                {"q": 0.038248, "qp": -0.00212},
                {"q": 0.0379, "qp": -0.00221},
                {"q": 0.038248, "qp": -0.0023},
                {"q": 0.0392, "qp": -0.002366},
                {"q": 0.0405, "qp": -0.00239},
                {"q": 0.0418, "qp": -0.002366},
                {"q": 0.042752, "qp": -0.0023}
              ]},
              "mark": {"type": "circle", "color": "black", "opacity": 1, "size": 22},
              "encoding": {
                "x": {"field": "q", "type": "quantitative", "scale": {"domain": [-0.0193, 0.05341], "nice": false, "zero": false}, "axis": null},
                "y": {"field": "qp", "type": "quantitative", "scale": {"domain": [-0.003886, 0.000315], "nice": false, "zero": false}, "axis": null}
              }
            }
          ],
          "resolve": {"axis": {"x": "independent", "y": "independent"}}
        }
  ]
}
